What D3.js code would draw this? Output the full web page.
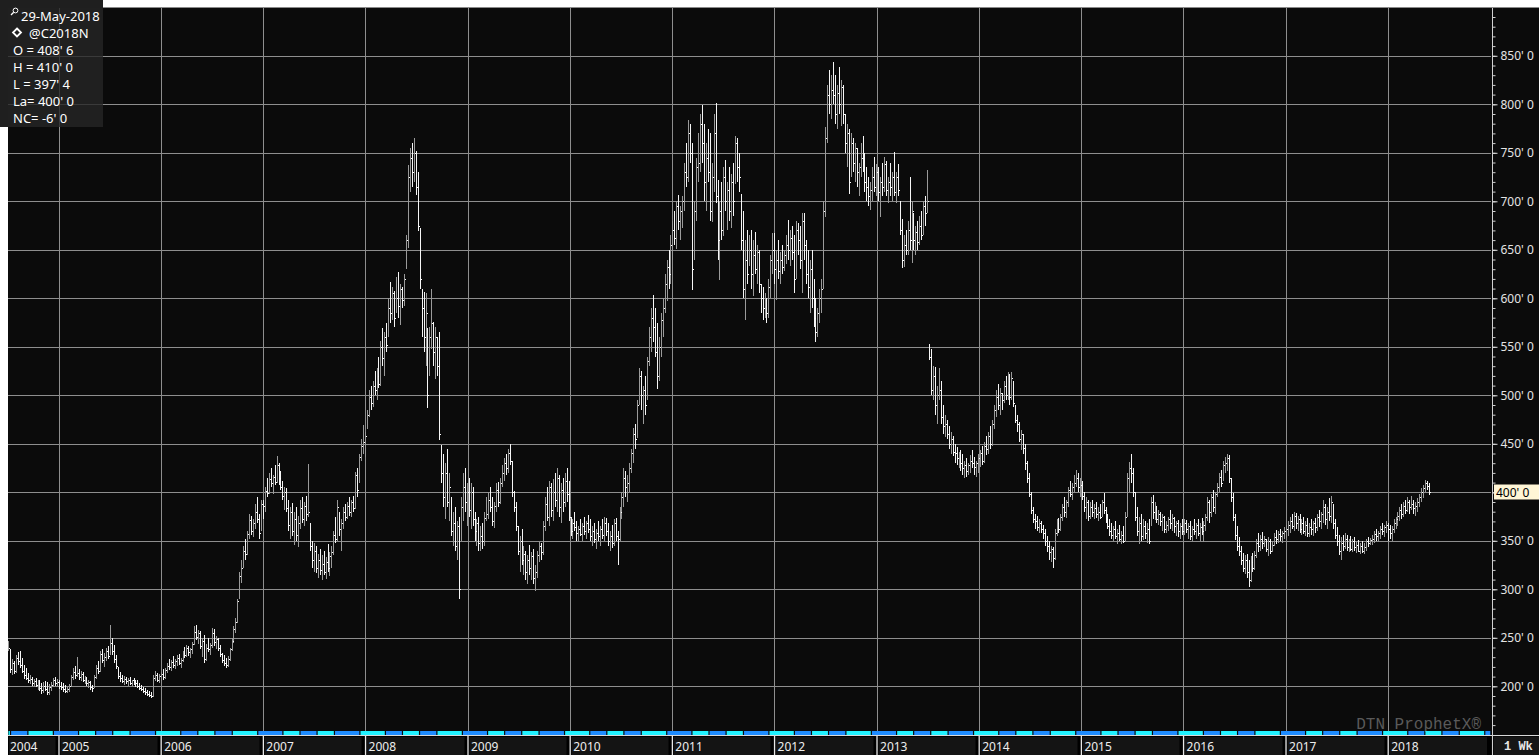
<!DOCTYPE html>
<html><head><meta charset="utf-8">
<script src="https://cdn.jsdelivr.net/npm/d3@7"></script>
<style>
html,body{margin:0;padding:0;background:#fff;overflow:hidden}
svg{display:block}
</style></head><body>
<svg id="c" width="1539" height="755"></svg>
<script>
// ---- DATA (weekly bars: [high, low, close] in cents/bu) ----
const yearStarts = ["2004-07-05","2005-01-03","2006-01-02","2007-01-01","2008-01-07","2009-01-05","2010-01-04","2011-01-03","2012-01-02","2013-01-07","2014-01-06","2015-01-05","2016-01-04","2017-01-02","2018-01-01"];
const bars2004 = [[247,236,240],[238,214,218],[228,212,224],[226,213,216],[232,214,229],[235,222,226],[236,219,222],[229,214,216],[222,208,212],[219,206,209],
[214,203,206],[212,202,208],[210,200,203],[208,199,205],[209,199,201],[206,196,203],[207,195,198],[203,192,196],[204,193,200],[205,195,197],
[204,191,194],[202,191,199],[204,195,201],[209,199,206],[210,200,203],[208,199,204]];
const bars2005 = [[206,197,200],[204,196,199],[203,194,197],[201,193,195],[199,193,197],[202,194,200],[212,199,210],[219,207,215],[221,208,212],[230,210,214],
[218,207,210],[216,205,213],[215,204,206],[211,202,209],[210,200,203],[206,198,204],[205,196,199],[201,194,198],[212,198,210],[222,208,219],
[226,213,216],[236,215,233],[238,224,227],[234,220,230],[240,226,236],[242,228,231],[263,232,245],[250,232,236],[243,224,228],[232,218,221],
[220,208,211],[215,204,209],[212,203,205],[211,201,208],[210,202,205],[209,200,207],[210,201,203],[207,200,206],[209,201,204],[206,199,203],
[206,198,200],[203,196,198],[201,195,197],[199,193,195],[198,191,194],[196,190,192],[195,189,191],[194,188,190],[212,189,209],[216,205,212],
[214,204,207],[213,203,211]];
const bars2006 = [[215,205,213],[218,207,210],[219,208,217],[224,214,221],[228,217,220],[227,216,225],[231,219,222],[228,218,226],[232,221,229],[233,222,224],
[229,219,227],[236,225,234],[241,229,232],[243,230,240],[242,231,235],[240,229,238],[246,233,244],[262,243,256],[263,248,251],[258,244,255],
[257,238,242],[250,230,247],[253,224,228],[244,226,240],[250,235,238],[245,232,243],[260,240,255],[259,242,246],[252,238,249],[250,236,240],
[243,230,233],[234,224,227],[232,221,224],[229,219,222],[231,220,228],[240,226,238],[250,236,247],[262,245,259],[270,255,266],[290,265,288],
[318,290,314],[330,306,322],[345,322,340],[352,330,336],[360,335,357],[378,352,371],[376,356,360],[372,354,368],[388,362,380],[395,368,372],
[378,352,358],[392,360,388]];
const bars2007 = [[392,372,386],[405,380,401],[415,395,399],[420,398,414],[425,405,410],[418,398,416],[428,408,411],[437,410,428],[430,408,415],[422,402,405],
[412,392,396],[405,382,400],[404,380,384],[392,360,366],[385,352,380],[389,355,360],[380,346,372],[385,350,356],[376,344,368],[392,362,384],
[395,368,372],[390,365,386],[396,370,378],[429,375,380],[368,340,345],[350,322,330],[348,318,340],[345,317,322],[336,312,330],[342,315,320],
[335,310,326],[340,315,318],[333,311,328],[347,318,322],[338,314,334],[345,322,338],[360,335,356],[375,348,352],[392,350,385],[380,355,362],
[372,340,368],[385,362,380],[388,370,375],[390,372,386],[395,376,380],[392,375,390],[396,380,384],[421,383,418],[425,395,402],[440,410,436],
[455,432,448],[469,440,452],[462,436,458]];
const bars2008 = [[485,465,480],[505,478,498],[510,485,492],[515,488,510],[525,500,505],[528,495,520],[540,508,512],[556,510,550],[569,530,538],[565,520,560],
[575,545,552],[600,560,590],[617,575,585],[612,578,605],[608,570,580],[622,585,600],[627,580,592],[615,572,610],[612,590,598],[625,592,620],
[665,630,660],[737,652,725],[755,710,745],[760,715,730],[765,720,750],[752,706,715],[730,669,675],[672,610,620],[610,560,590],[607,545,560],
[605,530,585],[569,487,500],[570,520,560],[610,548,575],[576,530,545],[570,517,560],[560,520,530],[565,454,460],[449,410,420],[440,385,395],
[430,372,420],[445,385,390],[420,370,405],[395,355,360],[380,345,368],[385,340,345],[370,330,365],[375,290,300],[395,350,385],[420,370,405],
[425,380,390],[410,365,400]];
const bars2009 = [[415,375,382],[410,362,400],[405,365,372],[380,350,360],[372,345,368],[375,339,348],[365,340,355],[368,342,350],[380,345,374],[395,370,378],
[400,372,392],[405,380,385],[395,365,370],[390,363,386],[410,380,402],[411,385,390],[415,388,410],[428,405,420],[435,412,430],[440,418,425],
[445,420,440],[450,428,432],[432,395,400],[401,380,385],[390,360,365],[365,335,340],[355,318,350],[362,325,330],[345,315,336],[340,310,318],
[335,305,330],[346,315,322],[338,310,334],[342,305,312],[325,298,318],[340,312,335],[349,328,345],[348,330,338],[370,335,365],[395,360,388],
[405,370,375],[412,365,405],[410,375,382],[414,370,400],[420,385,392],[425,380,415],[418,375,385],[410,368,402],[415,380,390],[420,385,412],
[425,390,398],[412,370,375]];
const bars2010 = [[375,355,360],[372,352,368],[380,360,364],[370,350,358],[365,349,362],[372,355,357],[368,350,365],[375,356,360],[370,352,368],[377,358,362],
[372,350,355],[365,345,360],[368,348,352],[362,342,358],[370,350,355],[365,345,362],[372,352,356],[375,350,368],[373,355,360],[368,345,350],
[360,340,355],[366,343,348],[372,345,368],[373,350,355],[360,325,352],[385,350,380],[400,372,395],[425,385,415],[422,395,405],[418,390,410],
[430,400,425],[445,420,440],[466,430,460],[470,445,455],[495,456,490],[528,490,520],[525,485,500],[510,470,505],[520,480,490],[540,495,535],
[570,530,560],[590,545,580],[603,555,570],[590,540,545],[575,507,520],[560,515,550],[585,540,578],[600,560,590],[625,585,615],[640,597,632],
[650,610,625],[665,615,655]];
const bars2011 = [[680,640,670],[690,655,662],[700,651,695],[707,670,680],[695,660,690],[705,672,700],[740,690,730],[760,715,725],[784,720,770],[780,740,750],
[760,609,630],[700,640,690],[745,680,735],[770,720,740],[790,730,780],[799,740,760],[780,700,720],[760,690,745],[775,720,730],[770,680,690],
[740,679,725],[790,710,770],[801,698,705],[722,640,660],[700,619,690],[720,660,670],[735,664,725],[743,690,700],[720,670,712],[735,680,690],
[728,672,720],[740,685,700],[767,718,760],[765,720,735],[750,710,725],[708,650,660],[690,600,610],[660,578,640],[670,615,625],[665,633,650],
[670,610,625],[660,602,645],[668,625,630],[655,615,648],[650,605,615],[615,585,600],[612,578,590],[605,580,598],[600,575,585],[620,580,612],
[645,600,640],[667,625,650]];
const bars2012 = [[667,615,630],[650,598,640],[660,620,628],[648,615,640],[655,625,632],[650,628,645],[665,635,655],[681,640,650],[670,633,662],[675,640,648],
[665,605,620],[680,620,670],[678,645,660],[675,630,640],[688,605,680],[688,640,655],[660,615,625],[650,600,612],[640,585,630],[650,590,600],
[620,570,580],[600,555,565],[590,560,585],[610,575,600],[620,585,610],[700,610,690],[777,684,765],[820,760,810],[835,790,800],[830,785,815],
[844,800,810],[830,780,790],[820,775,812],[838,790,800],[825,778,818],[820,780,790],[790,750,760],[780,735,770],[775,708,720],[770,725,760],
[765,730,740],[760,720,755],[755,715,730],[740,705,735],[760,725,745],[767,730,735],[750,710,720],[735,700,715],[725,695,705],[720,691,712],
[735,700,725],[746,710,715],[738,705,730]];
const bars2013 = [[735,700,710],[725,684,720],[740,705,715],[746,710,738],[742,705,712],[725,698,720],[739,705,715],[730,700,725],[751,705,710],[730,698,725],
[738,705,712],[700,665,670],[682,631,640],[665,632,655],[670,645,650],[680,645,670],[725,650,660],[700,636,690],[688,650,660],[675,645,668],
[680,650,658],[685,655,675],[690,660,665],[700,665,695],[705,675,688],[732,688,700],
[553,536,540],[548,500,505],[530,495,520],[529,480,490],[510,470,500],[528,495,505],[515,470,478],[490,460,468],[480,457,470],[475,455,460],
[468,445,450],[462,440,455],[458,437,442],[450,430,440],[447,428,435],[442,425,438],[444,422,430],[440,418,425],[432,415,428],[435,416,422],
[430,418,428],[438,420,432],[444,425,430],[436,418,426],[432,416,430],[440,420,435]];
const bars2014 = [[444,426,440],[448,428,432],[452,430,448],[458,438,445],[462,440,458],[468,445,450],[475,448,470],[490,465,485],[505,478,498],[512,485,490],
[508,480,502],[502,485,495],[515,492,510],[520,495,500],[524,495,515],[522,490,498],[524,495,518],[515,488,492],[490,471,475],[480,462,470],
[472,452,455],[464,444,460],[460,440,446],[450,423,430],[432,410,415],[420,395,398],[400,378,382],[385,368,372],[378,362,370],[376,360,364],
[372,358,368],[370,358,362],[366,352,358],[362,345,350],[355,338,345],[350,330,338],[345,328,342],[344,322,332],[362,330,358],[372,355,368],
[374,358,362],[378,360,375],[388,370,385],[395,375,380],[392,374,390],[405,385,402],[412,395,398],[410,392,405],[418,400,410],[423,405,415],
[420,400,405],[415,395,408]];
const bars2015 = [[412,392,396],[400,380,385],[395,372,390],[392,370,376],[390,372,385],[392,375,380],[388,372,384],[390,374,378],[385,370,380],[388,372,375],
[392,375,390],[399,378,382],[385,368,372],[378,362,365],[372,355,360],[368,352,356],[365,350,362],[370,352,355],[362,347,358],[366,350,352],
[360,347,356],[365,348,350],[380,350,375],[420,375,415],[431,400,425],[439,410,420],[425,395,400],[400,370,375],[385,355,360],[375,347,368],
[378,350,355],[372,351,365],[370,352,358],[368,348,362],[372,347,350],[395,365,390],[397,372,380],[390,371,386],[385,368,372],[382,366,378],
[380,365,370],[378,360,375],[376,358,362],[370,358,366],[375,360,372],[382,362,368],[378,360,374],[375,358,365],[370,355,368],[371,354,360],
[368,352,365],[372,356,360]];
const bars2016 = [[372,356,368],[371,358,362],[368,352,365],[370,351,355],[365,350,362],[372,356,360],[368,352,366],[372,355,358],[368,350,364],[373,356,360],
[370,349,366],[378,360,375],[395,370,390],[392,368,380],[398,375,395],[402,380,385],[400,378,398],[410,395,405],[420,400,416],[423,405,410],
[432,412,428],[436,420,430],[439,422,435],[438,410,415],[415,390,395],[399,370,375],[378,351,356],[365,340,345],[354,334,340],[345,325,330],
[337,318,322],[335,316,330],[336,312,318],[330,302,310],[334,308,328],[337,318,322],[340,320,335],[352,332,348],[358,338,345],[356,340,352],
[359,342,348],[355,344,352],[352,338,342],[354,334,350],[352,336,340],[350,338,346],[358,345,354],[361,347,352],[360,348,357],[362,350,355],
[360,348,358],[364,352,360]];
const bars2017 = [[366,353,362],[370,355,366],[375,358,370],[378,362,365],[380,360,376],[379,362,368],[376,360,372],[378,358,362],[372,356,368],[375,357,360],
[370,355,366],[373,354,358],[368,354,364],[372,356,362],[370,355,368],[374,358,364],[378,360,375],[382,364,370],[380,362,378],[392,368,385],
[388,366,372],[385,362,380],[394,370,376],[396,368,390],[388,362,368],[372,352,356],[364,345,350],[356,335,340],[354,330,348],[356,340,345],
[358,342,352],[356,340,344],[352,338,348],[355,340,342],[352,338,350],[354,340,344],[350,337,346],[351,338,340],[348,336,345],[350,337,340],
[348,336,344],[352,340,350],[354,344,348],[353,346,351],[356,346,352],[360,348,357],[362,350,355],[360,349,358],[365,352,362],[368,356,360],
[366,354,364],[370,358,366]];
const bars2018 = [[368,350,362],[366,352,358],[365,350,362],[372,358,368],[375,362,372],[380,365,376],[385,370,382],[388,372,378],[390,375,386],[392,378,382],
[395,380,390],[392,378,385],[396,382,388],[392,378,384],[390,376,386],[394,380,390],[398,385,395],[404,390,400],[408,394,404],[413,400,410],
[412,402,406],[410,397.5,400]];

const yearLabels = ["2004","2005","2006","2007","2008","2009","2010","2011","2012","2013","2014","2015","2016","2017","2018"];
const priceTicks = [200,250,300,350,400,450,500,550,600,650,700,750,800,850];
const contractRollMonths = [3,5,7,9,12]; // Mar, May, Jul, Sep, Dec expiries
const infoDate = "29-May-2018";
const infoSymbol = "@C2018N";
const infoOpen = 408.75, infoHigh = 410, infoLow = 397.5, infoLast = 400, infoChange = -6;
const barPeriod = "1 Wk";
const watermark = "DTN ProphetX\u00AE";

// ---- LAYOUT ----
const W = 1539, H = 755;
const L = 8, T = 8, R = 1491, B = 731;
const svg = d3.select("#c");
const parse = d3.utcParse("%Y-%m-%d");
const yearBars = [bars2004,bars2005,bars2006,bars2007,bars2008,bars2009,bars2010,bars2011,bars2012,bars2013,bars2014,bars2015,bars2016,bars2017,bars2018];
const data = [];
yearBars.forEach((arr, k) => {
  const s = parse(yearStarts[k]);
  arr.forEach((b, j) => data.push({date: d3.utcDay.offset(s, 7*j), h:b[0], l:b[1], c:b[2]}));
});
data.forEach((d,i) => { d.up = i === 0 ? true : d.c >= data[i-1].c; });

const x = d3.scaleUtc().domain([new Date(Date.UTC(2005,0,1)), new Date(Date.UTC(2018,0,1))]).range([58.5, 1387.7]);
const y = d3.scaleLinear().domain([300, 800]).range([589.3, 104.3]);
const fmtPrice = v => { const w = Math.floor(v); const e = Math.round((v - w) * 8); return `${w}' ${e}`; };

// backgrounds
svg.append("rect").attr("width", W).attr("height", H).attr("fill", "#ffffff");
svg.append("rect").attr("x", L).attr("y", T).attr("width", W - L).attr("height", H - T).attr("fill", "#0b0b0b");
svg.append("line").attr("x1", L).attr("x2", W).attr("y1", T - 0.5).attr("y2", T - 0.5).attr("stroke", "#8a8a8a");

// watermark
svg.append("text").attr("x", 1481).attr("y", 729).attr("text-anchor", "end")
  .attr("font-family", "'Liberation Mono','DejaVu Sans Mono',monospace").attr("font-size", 16)
  .attr("fill", "#5a5a5a").text(watermark);

// grid
const yearTicks = yearLabels.slice(1).map(s => new Date(Date.UTC(+s, 0, 1)));
const grid = svg.append("g").attr("stroke", "#8e8e8e").attr("stroke-width", 1);
grid.selectAll("line.h").data(priceTicks).join("line")
  .attr("x1", L).attr("x2", R).attr("y1", d => Math.round(y(d)) + 0.5).attr("y2", d => Math.round(y(d)) + 0.5);
grid.selectAll("line.v").data(yearTicks).join("line")
  .attr("x1", d => Math.round(x(d)) + 0.5).attr("x2", d => Math.round(x(d)) + 0.5).attr("y1", T).attr("y2", B);

// contract strip
const startDate = x.invert(L), endDate = x.invert(R);
const rolls = [];
for (let yr = 2004; yr <= 2019; yr++) contractRollMonths.forEach(m => rolls.push(new Date(Date.UTC(yr, m - 1, 14))));
const bounds = [startDate].concat(rolls.filter(d => d > startDate && d < endDate), [endDate]);
const segs = d3.pairs(bounds);
svg.append("g").selectAll("rect").data(segs).join("rect")
  .attr("x", d => x(d[0]) + 0.5).attr("y", B).attr("height", 4)
  .attr("width", d => Math.max(0, x(d[1]) - x(d[0]) - 1.2))
  .attr("fill", (d, i) => i % 2 === 0 ? "#20f2ff" : "#1e8cff");
svg.append("line").attr("x1", L).attr("x2", W).attr("y1", 735.5).attr("y2", 735.5).attr("stroke", "#d8d8d8").attr("stroke-width", 1.2);

// x axis label area
svg.append("rect").attr("x", L).attr("y", 736).attr("width", R - L).attr("height", H - 736).attr("fill", "#000");
const xs = [L].concat(yearTicks.map(d => Math.round(x(d)) + 0.5), [R]);
svg.append("g").selectAll("rect").data(d3.pairs(xs)).join("rect")
  .attr("x", d => d[0] + 1).attr("y", 737).attr("width", d => d[1] - d[0] - 5).attr("height", H - 737)
  .attr("fill", "#141414");
const xAxis = d3.axisBottom(x).tickValues(yearTicks).tickSize(H - 736).tickFormat(d3.utcFormat("%Y"));
const gx = svg.append("g").attr("transform", "translate(0,736)").call(xAxis);
gx.select(".domain").remove();
gx.selectAll(".tick line").attr("stroke", "#e8e8e8").attr("stroke-width", 1.3);
gx.selectAll(".tick text").attr("x", 3).attr("y", 15).attr("dy", null).attr("text-anchor", "start")
  .attr("fill", "#eeeeee").attr("font-family", "'Noto Sans',sans-serif").attr("font-size", 12);
svg.append("text").attr("x", L + 2).attr("y", 751).attr("fill", "#eeeeee")
  .attr("font-family", "'Noto Sans',sans-serif").attr("font-size", 12).text(yearLabels[0]);

// bars
const gb = svg.append("g").attr("shape-rendering", "crispEdges");
gb.selectAll("line.bar").data(data).join("line").attr("class", "bar")
  .attr("x1", d => Math.round(x(d.date)) + 0.5).attr("x2", d => Math.round(x(d.date)) + 0.5)
  .attr("y1", d => y(d.h)).attr("y2", d => y(d.l))
  .attr("stroke", d => d.up ? "#9a9a9a" : "#f6f6f6").attr("stroke-width", 1);
gb.selectAll("line.cl").data(data).join("line").attr("class", "cl")
  .attr("x1", d => Math.round(x(d.date)) + 1).attr("x2", d => Math.round(x(d.date)) + 2)
  .attr("y1", d => Math.round(y(d.c)) + 0.5).attr("y2", d => Math.round(y(d.c)) + 0.5)
  .attr("stroke", "#ffffff").attr("stroke-width", 1);

// right axis
svg.append("rect").attr("x", R).attr("y", T).attr("width", W - R).attr("height", 735 - T).attr("fill", "#0b0b0b");
const minor = d3.range(160, 900, 10);
const gyMinor = svg.append("g").attr("transform", `translate(${R + 1.5},0)`)
  .call(d3.axisRight(y).tickValues(minor).tickSize(3).tickFormat(""));
gyMinor.select(".domain").remove();
gyMinor.selectAll(".tick line").attr("stroke", "#cfcfcf");
const gy = svg.append("g").attr("transform", `translate(${R + 1.5},0)`)
  .call(d3.axisRight(y).tickValues(priceTicks).tickSize(5).tickPadding(3).tickFormat(d => d === infoLast ? "" : `${d}' 0`));
gy.select(".domain").remove();
gy.selectAll(".tick line").attr("stroke", "#e0e0e0");
gy.selectAll(".tick text").attr("fill", "#e4e4e4").attr("font-family", "'Noto Sans',sans-serif").attr("font-size", 12);
svg.append("line").attr("x1", R + 1.5).attr("x2", R + 1.5).attr("y1", T).attr("y2", H).attr("stroke", "#d0d0d0");
// last price marker
const yl = Math.round(y(infoLast));
svg.append("rect").attr("x", R + 3).attr("y", yl - 7.5).attr("width", W - R - 3).attr("height", 15).attr("fill", "#fff6d6");
svg.append("text").attr("x", R + 5).attr("y", yl + 4.5).attr("fill", "#000")
  .attr("font-family", "'Noto Sans',sans-serif").attr("font-size", 12).text(fmtPrice(infoLast));
// period box
svg.append("rect").attr("x", R + 3).attr("y", 737).attr("width", W - R - 3).attr("height", H - 737).attr("fill", "#161616");
svg.append("text").attr("x", R + 13).attr("y", 750).attr("fill", "#e6e6e6")
  .attr("font-family", "'Liberation Mono',monospace").attr("font-weight", "bold").attr("font-size", 12)
  .attr("xml:space", "preserve").text(barPeriod);

// white margins (outside chart)
svg.append("rect").attr("x", 103).attr("y", 0).attr("width", W - 103).attr("height", T - 1).attr("fill", "#fff");
svg.append("rect").attr("x", 0).attr("y", 127).attr("width", L).attr("height", H - 127).attr("fill", "#fff");

// info box
const ib = svg.append("g");
ib.append("rect").attr("x", 0).attr("y", 0).attr("width", 103).attr("height", 127).attr("fill", "#262626").attr("opacity", 0.8);
ib.append("rect").attr("x", 0).attr("y", 0).attr("width", 103).attr("height", T).attr("fill", "#1f1f1f");
ib.append("rect").attr("x", 0).attr("y", 0).attr("width", L).attr("height", 127).attr("fill", "#1f1f1f");
ib.append("circle").attr("cx", 15.5).attr("cy", 10.5).attr("r", 2.4).attr("fill", "none").attr("stroke", "#fff").attr("stroke-width", 1);
ib.append("line").attr("x1", 13.7).attr("y1", 12.3).attr("x2", 11).attr("y2", 15).attr("stroke", "#fff").attr("stroke-width", 1.3);
ib.append("path").attr("d", "M17,28.5 L21,32.5 L17,36.5 L13,32.5 Z").attr("fill", "none").attr("stroke", "#fff").attr("stroke-width", 1.8);
const infoLines = [
  {x: 21, y: 20.5, t: infoDate},
  {x: 29, y: 37.5, t: infoSymbol},
  {x: 13, y: 55, t: "O = " + fmtPrice(infoOpen)},
  {x: 13, y: 72, t: "H = " + fmtPrice(infoHigh)},
  {x: 13, y: 89, t: "L = " + fmtPrice(infoLow)},
  {x: 13, y: 106, t: "La= " + fmtPrice(infoLast)},
  {x: 13, y: 123, t: "NC= " + fmtPrice(infoChange)}
];
ib.selectAll("text").data(infoLines).join("text")
  .attr("x", d => d.x).attr("y", d => d.y).attr("fill", "#ffffff")
  .attr("font-family", "'Noto Sans',sans-serif").attr("font-size", 13).text(d => d.t);
</script>
</body></html>
